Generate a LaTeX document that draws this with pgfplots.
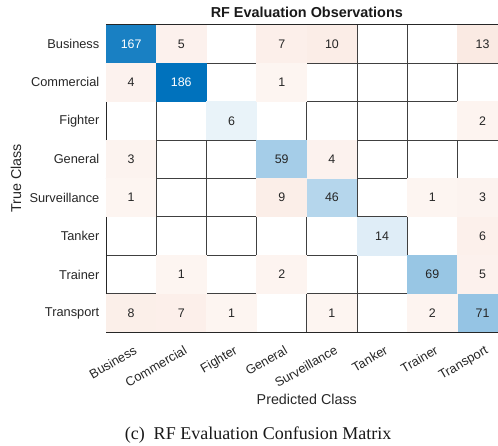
\documentclass[border=0pt]{standalone}
\usepackage{pgfplots}
\pgfplotsset{compat=1.18}
\usepackage{fontspec}
\setmainfont{Liberation Serif}
\newfontfamily\arial{Liberation Sans}
\definecolor{txt}{HTML}{262626}
\definecolor{mblue}{RGB}{0,114,189}
\definecolor{mred}{RGB}{217,83,25}
% cell marks: tint grows linearly with the count (1 -> 6%, 186 -> 100%)
\pgfdeclareplotmark{cellB}{\pgfmathsetmacro\tint{6+(\val-1)*0.50811}\pgfsetfillcolor{mblue!\tint!white}\pgfpathrectangle{\pgfpoint{-25.25pt}{-19.4pt}}{\pgfpoint{50.5pt}{38.8pt}}\pgfusepathqfill}
\pgfdeclareplotmark{cellR}{\pgfmathsetmacro\tint{6+(\val-1)*0.50811}\pgfsetfillcolor{mred!\tint!white}\pgfpathrectangle{\pgfpoint{-25.25pt}{-19.4pt}}{\pgfpoint{50.5pt}{38.8pt}}\pgfusepathqfill}
\begin{document}
\begin{tikzpicture}
\begin{axis}[
  at={(106pt,-24.7pt)}, anchor=north west,
  scale only axis, width=401.6pt, height=307.6pt,
  xmin=-0.5, xmax=7.5, ymin=-0.5, ymax=7.5, y dir=reverse,
  xtick={0,...,7}, ytick={0,...,7},
  xticklabels={Business,Commercial,Fighter,General,Surveillance,Tanker,Trainer,Transport},
  yticklabels={Business,Commercial,Fighter,General,Surveillance,Tanker,Trainer,Transport},
  major tick length=0pt, minor tick length=0pt,
  minor xtick={0.5,1.5,...,6.5}, minor ytick={0.5,1.5,...,6.5},
  xminorgrids, yminorgrids,
  minor grid style={draw=black!75, line width=0.9pt},
  axis line style={draw=black!85, line width=0.9pt},
  axis on top,
  tick label style={font=\arial\fontsize{12.8}{14}\selectfont, text=txt},
  yticklabel style={anchor=east, inner sep=0pt, xshift=-6.5pt},
  xticklabel style={xshift=2pt, yshift=-12.5pt, rotate=30, anchor=north east, inner sep=0pt},
  xlabel={Predicted Class}, ylabel={True Class},
  label style={font=\arial\fontsize{14.3}{16}\selectfont, text=txt},
  xlabel style={at={(axis description cs:0.5,0)}, anchor=base, yshift=-72.7pt},
  ylabel style={at={(axis description cs:0,0.5)}, anchor=center, yshift=90pt},
  title={RF Evaluation Observations},
  title style={font=\arial\bfseries\fontsize{14.4}{16}\selectfont, text=black!90, at={(0.5,1)}, anchor=base, yshift=1pt},
]
% diagonal (correct) cells
\addplot[only marks, mark=cellB, draw=none,
  visualization depends on={value \thisrow{v} \as \val},
  nodes near coords={\ifnum\val>100 \color{white}\fi\val},
  every node near coord/.append style={anchor=center, font=\arial\fontsize{12.4}{14}\selectfont, text=txt}]
  table[x=c, y=r] {
c r v
0 0 167
1 1 186
2 2 6
3 3 59
4 4 46
5 5 14
6 6 69
7 7 71
};
% off-diagonal (misclassified) cells
\addplot[only marks, mark=cellR, draw=none,
  visualization depends on={value \thisrow{v} \as \val},
  nodes near coords={\val},
  every node near coord/.append style={anchor=center, font=\arial\fontsize{12.4}{14}\selectfont, text=txt}]
  table[x=c, y=r] {
c r v
1 0 5
3 0 7
4 0 10
7 0 13
0 1 4
3 1 1
7 2 2
0 3 3
4 3 4
0 4 1
3 4 9
6 4 1
7 4 3
7 5 6
1 6 1
3 6 2
7 6 5
0 7 8
1 7 7
2 7 1
4 7 1
6 7 2
};
\end{axis}
\node[anchor=base, font=\fontsize{18}{20}\selectfont, text=black!90] at (258pt,-439pt) {(c)\enspace RF Evaluation Confusion Matrix};
\pgfresetboundingbox
\useasboundingbox (0,0) rectangle (498pt,-446pt);
\end{tikzpicture}
\end{document}
